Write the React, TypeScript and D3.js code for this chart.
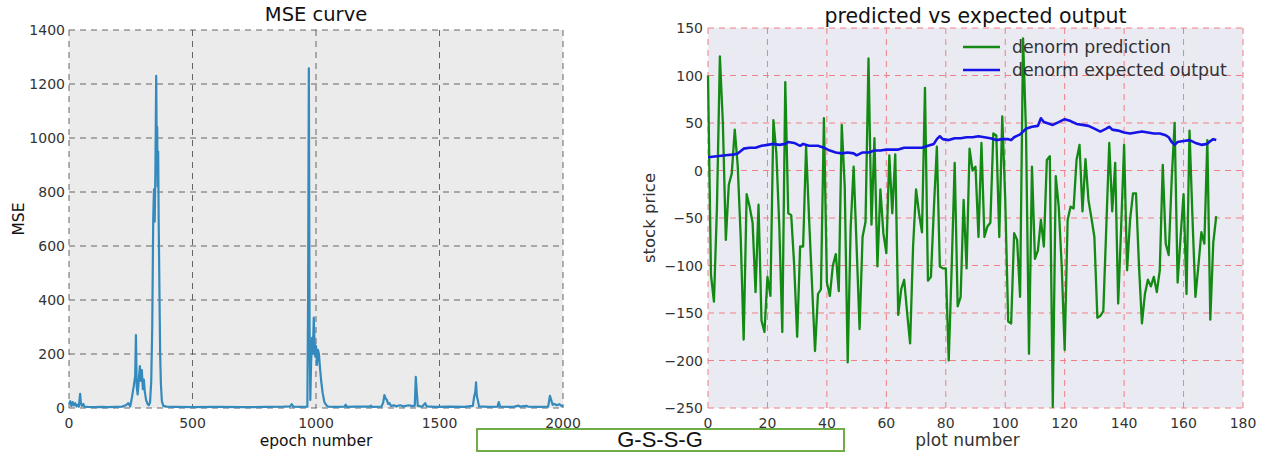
import React from "react";
import * as d3 from "d3";

// ---- MSE curve (left) ----
const mseEpoch = [
  0, 5, 10, 15, 20, 25, 30, 35, 40, 45, 48, 52, 58, 62, 75, 100, 130, 160, 190, 215, 230, 240, 248,
  255, 262, 268, 271, 274, 278, 283, 287, 291, 295, 299, 303, 307, 312, 318, 323, 328, 333, 337,
  341, 344, 347, 350, 353, 355, 357, 359, 361, 363, 366, 369, 372, 376, 382, 395, 430, 500, 600,
  700, 800, 870, 895, 902, 908, 940, 965, 968, 971, 974, 977, 980, 984, 987, 991, 994, 997, 1000,
  1004, 1008, 1012, 1016, 1021, 1027, 1034, 1042, 1050, 1080, 1115, 1120, 1125, 1160, 1218, 1222,
  1226, 1265, 1272, 1277, 1282, 1287, 1292, 1298, 1303, 1315, 1325, 1340, 1355, 1375, 1390, 1400,
  1404, 1408, 1412, 1430, 1442, 1448, 1480, 1540, 1600, 1635, 1640, 1645, 1648, 1651, 1655, 1660,
  1700, 1735, 1740, 1745, 1800, 1820, 1826, 1852, 1858, 1900, 1940, 1947, 1952, 1958, 1965, 1975,
  1985, 1995, 2000,
];
const mseValue = [
  15, 25, 8, 22, 10, 18, 6, 12, 5, 52, 20, 8, 15, 5, 4, 3, 4, 3, 4, 5, 10, 18, 6,
  40, 80, 120, 270, 80, 50, 110, 155, 100, 140, 70, 105, 60, 30, 15, 10, 20, 100, 300,
  700, 810, 690, 900, 1230, 1000, 1040, 820, 950, 700, 450, 200, 90, 25, 8, 5, 4, 3, 4,
  3, 4, 5, 6, 14, 5, 4, 5, 400, 1258, 300, 30, 160, 260, 200, 335, 250, 190, 230,
  160, 215, 200, 150, 100, 55, 22, 10, 5, 4, 5, 12, 4, 5, 5, 9,
  4, 5, 20, 48, 35, 30, 15, 18, 8, 10, 6, 10, 6, 10, 7, 9,
  115, 60, 8, 5, 18, 6, 4, 5, 4, 8, 40, 60, 95, 45, 30, 6,
  4, 5, 22, 5, 4, 9, 5, 8, 5, 4, 5, 45, 30, 12, 15, 10,
  14, 7, 5,
];
const mseXTicks = [0, 500, 1000, 1500, 2000];
const mseYTicks = [0, 200, 400, 600, 800, 1000, 1200, 1400];

// ---- predicted vs expected (right) ----
const prediction = [
  100, -110, -138, -40, 120, 50, -73, -15, -3, 43, 5, -70, -178, -25, -38, -55, -128, -36, -158, -170,
  -112, -132, 53, 18, -60, -170, 93, -45, -47, -100, -175, -80, -80, 25, -50, -120, -190, -130, -125, 55,
  -118, -132, -100, -88, -127, 48, -17, -202, -60, 4, -80, -167, -70, -54, 118, -57, 34, -101, -20, -66,
  -87, 16, -45, 17, -152, -125, -115, -150, -182, -80, -20, -45, -65, 87, -116, -112, -40, 25, -101, -103,
  -103, -200, -100, 8, -143, -133, -31, -103, 23, 0, 4, -70, 29, -70, -59, -55, 39, 37, -70, 57,
  -30, -159, -161, -66, -73, -133, 139, 40, -193, 4, -93, -84, -52, -80, 11, 15, -249, -6, -38, -100,
  -189, -52, -38, -40, 11, 27, -43, 12, -31, -50, -70, -155, -153, -148, -60, 29, -43, 8, -140, -60,
  27, -105, -52, -24, -24, -100, -161, -130, -115, -122, -112, -128, -105, 6, -77, -89, -10, 50, -118, -70,
  -25, -130, 42, -50, -133, -100, -65, -77, 32, -157, -76, -48,
];
const expectedX = [
  0, 3, 6, 9, 10, 12, 14, 16, 18, 20, 22, 24, 26, 27, 29, 31, 32, 34, 37, 39, 41, 43, 45, 47, 49, 50,
  52, 54, 56, 58, 60, 62, 64, 66, 68, 70, 72, 74, 76, 77, 78, 79, 81, 83, 85, 87, 89, 91, 93, 95, 97,
  99, 101, 102, 103, 105, 107, 109, 111, 112, 113, 115, 116, 118, 120, 122, 124, 126, 128, 130, 132,
  134, 135, 136, 138, 140, 142, 144, 146, 148, 150, 152, 154, 155, 156, 157, 158, 160, 162, 164, 166,
  168, 169, 170, 171,
];
const expectedY = [
  14, 15, 16, 17, 18, 23, 24, 24, 26, 27, 28, 27, 28, 30, 29, 26, 28, 26, 26, 24, 21, 19, 18, 19, 18, 16,
  19, 19, 21, 21, 22, 22, 22, 24, 24, 24, 24, 26, 28, 33, 36, 33, 32, 34, 34, 35, 35, 36, 35, 34, 32,
  33, 33, 32, 35, 38, 44, 46, 47, 55, 51, 49, 48, 51, 54, 52, 49, 48, 47, 44, 41,
  44, 46, 43, 42, 40, 39, 40, 41, 40, 39, 39, 37, 35, 30, 27, 30, 31, 32, 29, 27,
  28, 31, 33, 32,
];
const priceXTicks = [0, 20, 40, 60, 80, 100, 120, 140, 160, 180];
const priceYTicks = [-250, -200, -150, -100, -50, 0, 50, 100, 150];
const legendLabels = ["denorm prediction", "denorm expected output"];

const FONT = "'DejaVu Sans', sans-serif";
const TXT = "#333";
const fmt = (v: number) => String(v).replace("-", "\u2212");

function MsePanel() {
  const L = 69, R = 563, T = 30, B = 408;
  const x = d3.scaleLinear().domain([0, 2000]).range([L, R]);
  const y = d3.scaleLinear().domain([0, 1400]).range([B, T]);
  const line = d3
    .line<number>()
    .x((_, i) => x(mseEpoch[i]))
    .y((d) => y(d));
  return (
    <g>
      <rect x={L} y={T} width={R - L} height={B - T} fill="#ebebeb" />
      {mseXTicks.map((t) => (
        <line key={"gx" + t} x1={x(t)} x2={x(t)} y1={T} y2={B} stroke="#555" strokeWidth={0.9} strokeDasharray="6,5" />
      ))}
      {mseYTicks.map((t) => (
        <line key={"gy" + t} x1={L} x2={R} y1={y(t)} y2={y(t)} stroke="#555" strokeWidth={0.9} strokeDasharray="6,5" />
      ))}
      <path d={line(mseValue) || ""} fill="none" stroke="#348abd" strokeWidth={2.2} strokeLinejoin="round" />
      {mseXTicks.map((t) => (
        <text key={"tx" + t} x={x(t)} y={B + 20} textAnchor="middle" fontSize={14} fill={TXT}>{fmt(t)}</text>
      ))}
      {mseYTicks.map((t) => (
        <text key={"ty" + t} x={L - 4} y={y(t) + 5} textAnchor="end" fontSize={14} fill={TXT}>{fmt(t)}</text>
      ))}
      <text x={(L + R) / 2} y={21} textAnchor="middle" fontSize={19.5} fill="#111">MSE curve</text>
      <text x={(L + R) / 2} y={446} textAnchor="middle" fontSize={15.5} fill="#111">epoch number</text>
      <text transform={`translate(24,${(T + B) / 2}) rotate(-90)`} textAnchor="middle" fontSize={15.5} fill="#111">MSE</text>
    </g>
  );
}

function PricePanel() {
  const L = 708, R = 1243, T = 28, B = 408;
  const x = d3.scaleLinear().domain([0, 180]).range([L, R]);
  const y = d3.scaleLinear().domain([-250, 150]).range([B, T]);
  const predLine = d3
    .line<number>()
    .x((_, i) => x(i))
    .y((d) => y(d));
  const expLine = d3
    .line<number>()
    .x((_, i) => x(expectedX[i]))
    .y((d) => y(d));
  const legendColors = ["#138a13", "#1414e6"];
  return (
    <g>
      <rect x={L} y={T} width={R - L} height={B - T} fill="#eaeaf2" />
      {priceXTicks.map((t) => (
        <line key={"gx" + t} x1={x(t)} x2={x(t)} y1={T} y2={B} stroke="#f07f86" strokeWidth={1} strokeDasharray="6,5" />
      ))}
      {priceYTicks.map((t) => (
        <line key={"gy" + t} x1={L} x2={R} y1={y(t)} y2={y(t)} stroke="#f07f86" strokeWidth={1} strokeDasharray="6,5" />
      ))}
      <path d={predLine(prediction) || ""} fill="none" stroke={legendColors[0]} strokeWidth={2.3} strokeLinejoin="round" />
      <path d={expLine(expectedY) || ""} fill="none" stroke={legendColors[1]} strokeWidth={2.6} strokeLinejoin="round" />
      {legendLabels.map((s, i) => (
        <g key={s}>
          <line x1={963} x2={1000} y1={47 + i * 23} y2={47 + i * 23} stroke={legendColors[i]} strokeWidth={2.6} />
          <text x={1012} y={53 + i * 23} fontSize={17.3} fill={TXT}>{s}</text>
        </g>
      ))}
      {priceXTicks.map((t) => (
        <text key={"tx" + t} x={x(t)} y={B + 20} textAnchor="middle" fontSize={14} fill={TXT}>{fmt(t)}</text>
      ))}
      {priceYTicks.map((t) => (
        <text key={"ty" + t} x={L - 5} y={y(t) + 5} textAnchor="end" fontSize={14} fill={TXT}>{fmt(t)}</text>
      ))}
      <text x={(L + R) / 2} y={23} textAnchor="middle" fontSize={20.5} fill="#111">predicted vs expected output</text>
      <text x={(L + R) / 2 - 8} y={446} textAnchor="middle" fontSize={17} fill={TXT}>plot number</text>
      <text transform={`translate(655,${(T + B) / 2}) rotate(-90)`} textAnchor="middle" fontSize={16.5} fill={TXT}>stock price</text>
    </g>
  );
}

export default function App() {
  return (
    <svg
      width={1270}
      height={457}
      style={{ position: "absolute", left: 0, top: 0, display: "block", background: "#fff" }}
      fontFamily={FONT}
    >
      <rect width={1270} height={457} fill="#fff" />
      <MsePanel />
      <PricePanel />
      <rect x={477} y={429} width={367} height={22} fill="#fff" stroke="#70ad47" strokeWidth={2} />
      <text x={660} y={447} textAnchor="middle" fontSize={22} fill="#111" fontFamily="'Liberation Sans', sans-serif">G-S-S-G</text>
    </svg>
  );
}
